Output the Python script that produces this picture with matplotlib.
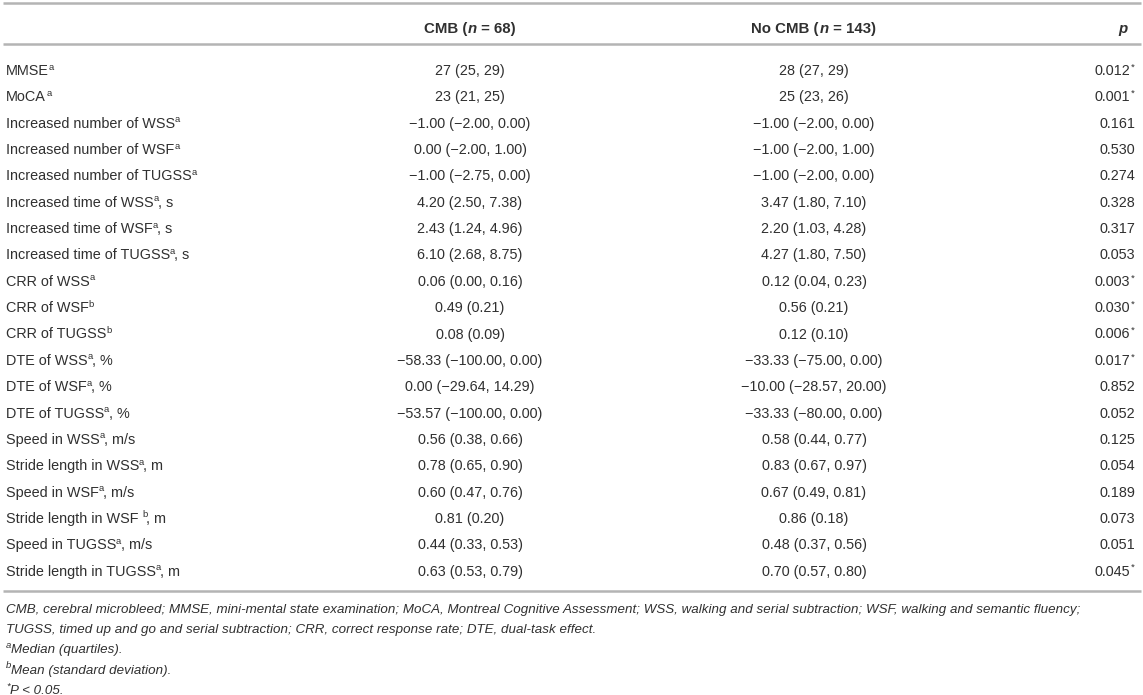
import matplotlib
matplotlib.use("Agg")
import matplotlib.pyplot as plt
from matplotlib.textpath import TextPath
from matplotlib.font_manager import FontProperties

# ---------------- data ----------------
headers = ["CMB", "68", "No CMB", "143", "p"]

row_labels = [
    "MMSE", "MoCA", "Increased number of WSS", "Increased number of WSF",
    "Increased number of TUGSS", "Increased time of WSS", "Increased time of WSF",
    "Increased time of TUGSS", "CRR of WSS", "CRR of WSF", "CRR of TUGSS",
    "DTE of WSS", "DTE of WSF", "DTE of TUGSS", "Speed in WSS",
    "Stride length in WSS", "Speed in WSF", "Stride length in WSF ",
    "Speed in TUGSS", "Stride length in TUGSS",
]
row_sups = ["a", "a", "a", "a", "a", "a", "a", "a", "a", "b", "b",
            "a", "a", "a", "a", "a", "a", "b", "a", "a"]
row_units = ["", "", "", "", "", ", s", ", s", ", s", "", "", "",
             ", %", ", %", ", %", ", m/s", ", m", ", m/s", ", m", ", m/s", ", m"]

cmb_values = [
    "27 (25, 29)", "23 (21, 25)", "\u22121.00 (\u22122.00, 0.00)", "0.00 (\u22122.00, 1.00)",
    "\u22121.00 (\u22122.75, 0.00)", "4.20 (2.50, 7.38)", "2.43 (1.24, 4.96)",
    "6.10 (2.68, 8.75)", "0.06 (0.00, 0.16)", "0.49 (0.21)", "0.08 (0.09)",
    "\u221258.33 (\u2212100.00, 0.00)", "0.00 (\u221229.64, 14.29)",
    "\u221253.57 (\u2212100.00, 0.00)", "0.56 (0.38, 0.66)", "0.78 (0.65, 0.90)",
    "0.60 (0.47, 0.76)", "0.81 (0.20)", "0.44 (0.33, 0.53)", "0.63 (0.53, 0.79)",
]
nocmb_values = [
    "28 (27, 29)", "25 (23, 26)", "\u22121.00 (\u22122.00, 0.00)", "\u22121.00 (\u22122.00, 1.00)",
    "\u22121.00 (\u22122.00, 0.00)", "3.47 (1.80, 7.10)", "2.20 (1.03, 4.28)",
    "4.27 (1.80, 7.50)", "0.12 (0.04, 0.23)", "0.56 (0.21)", "0.12 (0.10)",
    "\u221233.33 (\u221275.00, 0.00)", "\u221210.00 (\u221228.57, 20.00)",
    "\u221233.33 (\u221280.00, 0.00)", "0.58 (0.44, 0.77)", "0.83 (0.67, 0.97)",
    "0.67 (0.49, 0.81)", "0.86 (0.18)", "0.48 (0.37, 0.56)", "0.70 (0.57, 0.80)",
]
p_values = ["0.012", "0.001", "0.161", "0.530", "0.274", "0.328", "0.317", "0.053",
            "0.003", "0.030", "0.006", "0.017", "0.852", "0.052", "0.125", "0.054",
            "0.189", "0.073", "0.051", "0.045"]
p_signif = [True, True, False, False, False, False, False, False, True, True, True,
            True, False, False, False, False, False, False, False, True]

footnote_lines = [
    "CMB, cerebral microbleed; MMSE, mini-mental state examination; MoCA, Montreal Cognitive Assessment; "
    "WSS, walking and serial subtraction; WSF, walking and semantic fluency;",
    "TUGSS, timed up and go and serial subtraction; CRR, correct response rate; DTE, dual-task effect.",
]
footnote_marks = ["a", "b", "*"]
footnote_texts = ["Median (quartiles).", "Mean (standard deviation).", "P < 0.05."]

# ---------------- style ----------------
W, H = 1143, 695
DPI = 100
FONT = "Liberation Sans"
plt.rcParams["font.family"] = FONT
FS = 10.4
HFS = 10.8
SUP_FS = 6.8
SUP_DY = -5.5
TC = "#303030"
LC = "#b4b4b4"

fig = plt.figure(figsize=(W / DPI, H / DPI), dpi=DPI)
ax = fig.add_axes([0, 0, 1, 1])
ax.set_xlim(0, W)
ax.set_ylim(H, 0)
ax.axis("off")
renderer = fig.canvas.get_renderer()


def ink(s, fs, weight="normal", style="normal"):
    """Ink extent (x0, x1) of a string in pixels, from its glyph outlines."""
    prop = FontProperties(family=FONT, weight=weight, style=style)
    e = TextPath((0, 0), s, size=fs, prop=prop).get_extents()
    k = DPI / 72.0
    return e.x0 * k, e.x1 * k


def label_runs(x, y, runs, fs=FS):
    """Left-aligned runs of (text, weight, style, is_sup), joined by glyph ink."""
    cx = x
    for n, (s, wt, st, is_sup) in enumerate(runs):
        size = SUP_FS if is_sup else fs
        x0, x1 = ink(s, size, wt, st)
        pos = cx if n == 0 else cx - x0
        ax.text(pos, y + (SUP_DY if is_sup else 0), s, color=TC, va="baseline", ha="left",
                fontsize=size, fontweight=wt, fontstyle=st)
        cx = pos + x1 + 0.6
        if s.endswith(" "):
            cx += 0.28 * size * DPI / 72.0


def header_runs(x, y, runs, fs=HFS):
    objs, widths = [], []
    for s, wt, st in runs:
        t = ax.text(0, y, s, color=TC, va="baseline", ha="left",
                    fontsize=fs, fontweight=wt, fontstyle=st)
        objs.append(t)
        widths.append(t.get_window_extent(renderer).width + 0.6)
    x0 = x - sum(widths) / 2
    for t, w in zip(objs, widths):
        t.set_position((x0, y))
        x0 += w


# rules
for yy in (3, 44, 591):
    ax.plot([3, 1141], [yy, yy], color=LC, lw=1.8, solid_capstyle="butt")

X_LABEL = 6
X_CMB = 470
X_NOCMB = 814
X_P = 1130

# header
HY = 33
header_runs(X_CMB, HY, [(headers[0] + " (", "bold", "normal"), ("n", "bold", "italic"),
                        (" = " + headers[1] + ")", "bold", "normal")])
header_runs(X_NOCMB, HY, [(headers[2] + " (", "bold", "normal"), ("n", "bold", "italic"),
                          (" = " + headers[3] + ")", "bold", "normal")])
ax.text(X_P - 3, HY, headers[4], color=TC, va="baseline", ha="right",
        fontsize=HFS, fontweight="bold", fontstyle="italic")

# body
Y0 = 75
DY = 26.35
for i in range(len(row_labels)):
    y = Y0 + i * DY
    runs = [(row_labels[i], "normal", "normal", False), (row_sups[i], "normal", "normal", True)]
    if row_units[i]:
        runs.append((row_units[i], "normal", "normal", False))
    label_runs(X_LABEL, y, runs)
    ax.text(X_CMB, y, cmb_values[i], color=TC, va="baseline", ha="center", fontsize=FS)
    ax.text(X_NOCMB, y, nocmb_values[i], color=TC, va="baseline", ha="center", fontsize=FS)
    if p_signif[i]:
        ax.text(X_P, y, p_values[i], color=TC, va="baseline", ha="right", fontsize=FS)
        ax.text(X_P + 0.5, y + SUP_DY, "*", color=TC, va="baseline", ha="left", fontsize=SUP_FS)
    else:
        ax.text(X_P + 5, y, p_values[i], color=TC, va="baseline", ha="right", fontsize=FS)

# footnotes
FY0 = 613
FDY = 20.2
FFS = 9.6
for j, line in enumerate(footnote_lines):
    ax.text(X_LABEL, FY0 + j * FDY, line, color=TC, va="baseline", ha="left",
            fontsize=FFS, fontstyle="italic")
for k, (m, t) in enumerate(zip(footnote_marks, footnote_texts)):
    label_runs(X_LABEL, FY0 + (k + 2) * FDY,
               [(m, "normal", "italic", True), (t, "normal", "italic", False)], fs=FFS)

fig.savefig("out.png", dpi=DPI)
